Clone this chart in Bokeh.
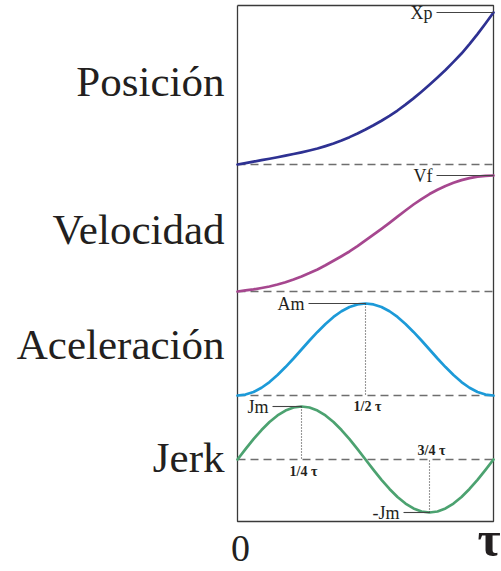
from bokeh.plotting import figure
from bokeh.models import Range1d
from bokeh.embed import file_html
from bokeh.resources import INLINE
from bokeh.core.properties import value

# ---- data: one motion cycle, time in units of tau, values as fraction of peak ----
t = [0, 0.03125, 0.0625, 0.09375, 0.125, 0.15625, 0.1875, 0.21875, 0.25,
     0.28125, 0.3125, 0.34375, 0.375, 0.40625, 0.4375, 0.46875, 0.5,
     0.53125, 0.5625, 0.59375, 0.625, 0.65625, 0.6875, 0.71875, 0.75,
     0.78125, 0.8125, 0.84375, 0.875, 0.90625, 0.9375, 0.96875, 1.0]
posicion = [0, 0.0095, 0.019, 0.0285, 0.038, 0.048, 0.058, 0.069, 0.080,
            0.092, 0.105, 0.121, 0.138, 0.158, 0.180, 0.204, 0.230,
            0.258, 0.288, 0.320, 0.355, 0.394, 0.435, 0.479, 0.525,
            0.573, 0.622, 0.675, 0.730, 0.792, 0.858, 0.928, 1.0]
velocidad = [0, 0.009, 0.018, 0.030, 0.043, 0.060, 0.080, 0.104, 0.130,
             0.159, 0.190, 0.226, 0.265, 0.304, 0.345, 0.391, 0.440,
             0.490, 0.540, 0.592, 0.645, 0.698, 0.750, 0.797, 0.840,
             0.877, 0.910, 0.937, 0.960, 0.977, 0.990, 0.997, 1.0]
aceleracion = [0, 0.010, 0.038, 0.084, 0.146, 0.222, 0.309, 0.402, 0.500,
               0.598, 0.691, 0.778, 0.854, 0.916, 0.962, 0.990, 1.0,
               0.990, 0.962, 0.916, 0.854, 0.778, 0.691, 0.598, 0.500,
               0.402, 0.309, 0.222, 0.146, 0.084, 0.038, 0.010, 0]
jerk = [0, 0.195, 0.383, 0.556, 0.707, 0.831, 0.924, 0.981, 1.0,
        0.981, 0.924, 0.831, 0.707, 0.556, 0.383, 0.195, 0,
        -0.195, -0.383, -0.556, -0.707, -0.831, -0.924, -0.981, -1.0,
        -0.981, -0.924, -0.831, -0.707, -0.556, -0.383, -0.195, 0]

titles = ["Posición", "Velocidad", "Aceleración", "Jerk"]
series = [posicion, velocidad, aceleracion, jerk]
names = ["pos", "vel", "acc", "jerk"]
colors = ["#2e3192", "#a6478f", "#1c9ad8", "#4ca270"]

# ---- layout (pixels, measured from the top-left corner) ----
W, H = 501, 571
X0, X1 = 237, 493
SPAN = X1 - X0
BOX_TOP, BOX_BOTTOM = 5, 521
# per panel: baseline pixel and pixels per unit of value
baselines = [164, 291, 395, 459]
scales = [152, 116, 92, 53]
title_baselines = [97, 245, 360, 473]
TITLE_RIGHT = 224
SERIF = value("Liberation Serif")
INK = "#231f20"


def text_y(baseline_px, size_px):
    # place the glyph run so its alphabetic baseline lands on baseline_px
    return baseline_px - 0.37 * size_px


p = figure(width=W, height=H,
           x_range=Range1d((0 - X0) / SPAN, (W - X0) / SPAN),
           y_range=Range1d(H, 0),
           x_axis_type=None, y_axis_type=None,
           output_backend="svg", toolbar_location=None, min_border=0)
p.outline_line_color = None
p.background_fill_color = "white"
p.border_fill_color = "white"
p.grid.visible = False

p.extra_x_ranges = {"px": Range1d(0, W)}
p.extra_y_ranges = {n: Range1d((b - H) / s, b / s)
                    for n, b, s in zip(names, baselines, scales)}

# frame around the four panels
p.line([0, 0, 1, 1, 0], [BOX_TOP, BOX_BOTTOM, BOX_BOTTOM, BOX_TOP, BOX_TOP],
       line_color="#3a3a3a", line_width=1.3)

# dashed baselines and the curves
for n, vals, col in zip(names, series, colors):
    p.line([0, 1], [0, 0], y_range_name=n, line_color="#6e6e6e",
           line_width=1.3, line_dash="8 5")
    p.line(t, vals, y_range_name=n, line_color=col, line_width=2.7,
           line_join="round", line_cap="round")

# panel titles on the left
for title, yb in zip(titles, title_baselines):
    p.text(x=[TITLE_RIGHT], y=[text_y(yb, 43)], text=[title], x_range_name="px",
           text_font=SERIF, text_font_size="43px", text_color=INK,
           text_align="right", text_baseline="alphabetic")

# peak markers: (panel, time, value, label, leader length px)
markers = [("pos", 1.0, 1.0, "Xp", 57),
           ("vel", 1.0, 1.0, "Vf", 57),
           ("acc", 0.5, 1.0, "Am", 57),
           ("jerk", 0.25, 1.0, "Jm", 29),
           ("jerk", 0.75, -1.0, "-Jm", 26)]
for n, tm, v, lab, ln in markers:
    xs = tm - ln / SPAN
    p.line([xs, tm], [v, v], y_range_name=n, line_color="#444444",
           line_width=1.1)
    p.text(x=[xs - 4 / SPAN], y=[v], text=[lab], y_range_name=n,
           text_font=SERIF, text_font_size="18px", text_color=INK,
           text_align="right", text_baseline="middle")

# dotted drops from the extrema to the baseline
for n, tm, v in [("acc", 0.5, 1.0), ("jerk", 0.25, 1.0), ("jerk", 0.75, -1.0)]:
    p.line([tm, tm], [v, 0], y_range_name=n, line_color="#333333",
           line_width=1.1, line_dash="1 2")

# fractional time labels: (panel, time, pixel gap from baseline, text)
frac_labels = [("acc", 0.5, -11, "1/2 τ"),
               ("jerk", 0.25, -12, "1/4 τ"),
               ("jerk", 0.75, 9, "3/4 τ")]
for n, tm, gap, lab in frac_labels:
    idx = names.index(n)
    p.text(x=[tm + 2 / SPAN], y=[gap / scales[idx]], text=[lab],
           y_range_name=n, text_font=SERIF, text_font_size="14px",
           text_font_style="bold", text_color=INK,
           text_align="center", text_baseline="middle")

# time axis ends
p.text(x=[240], y=[text_y(562, 38)], text=["0"], x_range_name="px",
       text_font=SERIF, text_font_size="38px", text_color=INK,
       text_align="center", text_baseline="alphabetic")
p.text(x=[477], y=[text_y(557, 50)], text=["τ"], x_range_name="px",
       text_font=SERIF, text_font_size="50px", text_font_style="bold",
       text_color=INK, text_align="left", text_baseline="alphabetic")

open("out.html", "w").write(file_html(p, INLINE))
